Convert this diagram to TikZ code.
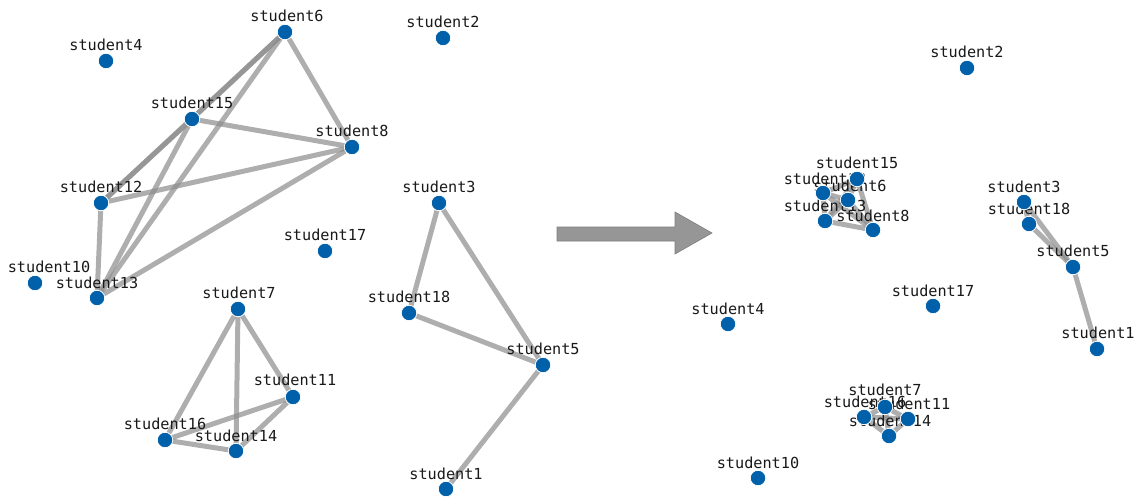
\documentclass[tikz,border=0pt]{standalone}
\usepackage{fontspec}
\newfontfamily\labfont{DejaVu Sans Mono}
\definecolor{nodeblue}{RGB}{0,96,170}
\definecolor{edgegray}{RGB}{140,140,140}
\definecolor{arrowfill}{RGB}{150,150,150}
\definecolor{arrowline}{RGB}{125,125,125}
\begin{document}
\begin{tikzpicture}[x=1pt,y=-1pt,
  vert/.style={circle, fill=nodeblue, draw=white, line width=0.8pt, minimum size=15.5pt, inner sep=0pt},
  lab/.style={font=\labfont\fontsize{15.2}{18}\selectfont, inner sep=0pt, text=black!90},
  edge/.style={draw=edgegray, line width=5pt, opacity=0.7}]
\useasboundingbox (0,0) rectangle (1139,497);
% ---------- left panel coordinates
\coordinate (L1) at (446,489);
\coordinate (L2) at (443,38);
\coordinate (L3) at (439,203);
\coordinate (L4) at (106,61);
\coordinate (L5) at (543,365);
\coordinate (L6) at (285,32);
\coordinate (L7) at (238,309);
\coordinate (L8) at (352,147);
\coordinate (L10) at (35,283);
\coordinate (L11) at (293,397);
\coordinate (L12) at (101,203);
\coordinate (L13) at (97,298);
\coordinate (L14) at (236,451);
\coordinate (L15) at (192,119);
\coordinate (L16) at (165,440);
\coordinate (L17) at (325,251);
\coordinate (L18) at (409,313);
% ---------- right panel coordinates
\coordinate (R1) at (1097,349);
\coordinate (R2) at (967,68);
\coordinate (R3) at (1024,202);
\coordinate (R4) at (728,324);
\coordinate (R5) at (1073,267);
\coordinate (R6) at (848,200);
\coordinate (R7) at (885,407);
\coordinate (R8) at (873,230);
\coordinate (R10) at (758,478);
\coordinate (R11) at (908,419);
\coordinate (R12) at (823,193);
\coordinate (R13) at (825,221);
\coordinate (R14) at (889,436);
\coordinate (R15) at (857,179);
\coordinate (R16) at (864,417);
\coordinate (R17) at (933,306);
\coordinate (R18) at (1029,224);
% ---------- edges
\foreach \p in {L,R}{
  \foreach \a/\b in {6/15,6/12,15/12,6/13,6/8,15/13,15/8,12/8,12/13,13/8,
                     7/16,7/14,7/11,16/11,16/14,14/11,
                     3/18,3/5,18/5,5/1}{
    \draw[edge] (\p\a) -- (\p\b);
  }
}
% ---------- arrow
\draw[fill=arrowfill, draw=arrowline, line width=0.6pt, line join=miter]
  (557,227) -- (675,227) -- (675,212) -- (712,233) -- (675,254) -- (675,241) -- (557,241) -- cycle;
% ---------- labels left
\node[lab] (tL1) at (446,474) {student1};
\node[lab] (tL2) at (443,22) {student2};
\node[lab] (tL3) at (439,187) {student3};
\node[lab] (tL4) at (106,45) {student4};
\node[lab] (tL5) at (543,349) {student5};
\node[lab] (tL6) at (287,16) {student6};
\node[lab] (tL7) at (239,293) {student7};
\node[lab] (tL8) at (352,131) {student8};
\node[lab] (tL10) at (49,267) {student10};
\node[lab] (tL11) at (295,380) {student11};
\node[lab] (tL12) at (101,187) {student12};
\node[lab] (tL13) at (97,283) {student13};
\node[lab] (tL14) at (236,436) {student14};
\node[lab] (tL15) at (192,103) {student15};
\node[lab] (tL16) at (165,424) {student16};
\node[lab] (tL17) at (325,235) {student17};
\node[lab] (tL18) at (409,297) {student18};
% ---------- labels right
\node[lab] (tR1) at (1098,333) {student1};
\node[lab] (tR2) at (967,52) {student2};
\node[lab] (tR3) at (1024,187) {student3};
\node[lab] (tR4) at (728,309) {student4};
\node[lab] (tR5) at (1073,251) {student5};
\node[lab] (tR6) at (850,186) {student6};
\node[lab] (tR7) at (885,390) {student7};
\node[lab] (tR8) at (873,216) {student8};
\node[lab] (tR10) at (758,463) {student10};
\node[lab] (tR11) at (909,404) {student11};
\node[lab] (tR12) at (825,179) {student12};
\node[lab] (tR13) at (825,206) {student13};
\node[lab] (tR14) at (890,421) {student14};
\node[lab] (tR15) at (857,163) {student15};
\node[lab] (tR16) at (865,402) {student16};
\node[lab] (tR17) at (933,291) {student17};
\node[lab] (tR18) at (1029,209) {student18};
% ---------- vertices
\foreach \p in {L,R}{
  \foreach \n in {1,2,3,4,5,6,7,8,10,11,12,13,14,15,16,17,18}{
    \node[vert] (v\p\n) at (\p\n) {};
  }
}
\end{tikzpicture}
\end{document}
